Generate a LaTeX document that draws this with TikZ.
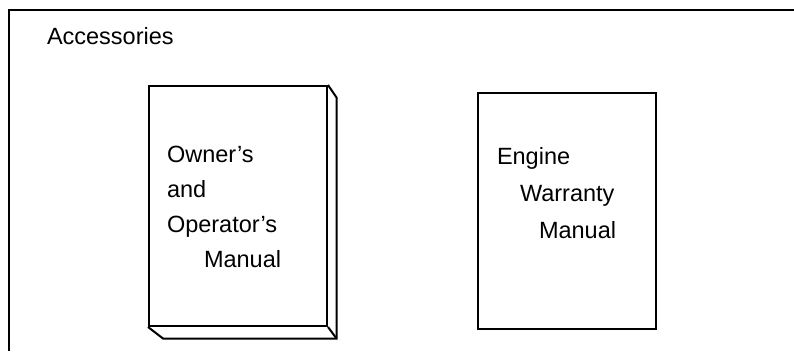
\documentclass[tikz,border=0pt]{standalone}
\usepackage{fontspec}
\setmainfont{Liberation Sans}
\begin{document}
\begin{tikzpicture}[x=1pt,y=-1pt,line width=2pt,
  bookface/.style={draw,inner sep=0pt,anchor=north west,minimum width=178pt,minimum height=240pt},
  booktext/.style={font=\fontsize{23.5}{35}\selectfont,align=left,anchor=north west,inner sep=0pt}]
  \useasboundingbox (0,0) rectangle (794,351);
  % outer frame
  \coordinate (framebl) at (8.5,351);
  \coordinate (frametl) at (8.5,9.5);
  \coordinate (frametr) at (794,9.5);
  \draw (framebl) -- (frametl) -- (frametr);
  \node[booktext] (title) at (46,26) {Accessories};
  % owner's manual, with its thickness
  \node[bookface] (owner) at (148,85) {};
  \coordinate (ownerbackne) at ([shift={(8.5,12.5)}]owner.north east);
  \coordinate (ownerbackse) at ([shift={(8.5,11.5)}]owner.south east);
  \coordinate (ownerbacksw) at ([shift={(15,11.5)}]owner.south west);
  \draw (owner.north east) -- (ownerbackne) -- (ownerbackse) -- (ownerbacksw) -- (owner.south west);
  \draw (owner.south east) -- (ownerbackse);
  \node[booktext] (ownertext) at (166,145) {Owner’s\\and\\Operator’s\\\hspace*{37pt}Manual};
  % warranty manual
  \node[bookface,minimum height=236pt] (warranty) at (477,92) {};
  \node[booktext,font=\fontsize{23.5}{37}\selectfont] (warrantytext) at (496,146)
    {Engine\\\hspace*{23pt}Warranty\\\hspace*{42pt}Manual};
\end{tikzpicture}
\end{document}
